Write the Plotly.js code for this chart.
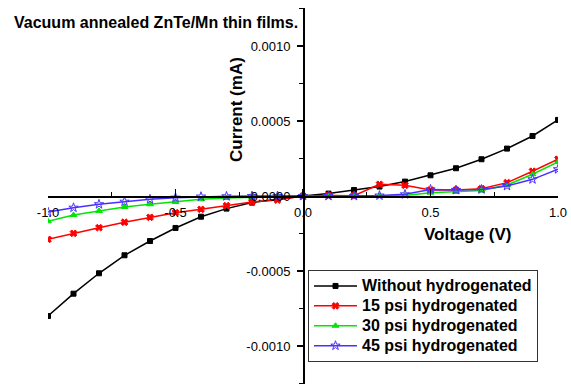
<!DOCTYPE html>
<html>
<head>
<meta charset="utf-8">
<script src="https://cdn.plot.ly/plotly-3.0.1.min.js"></script>
<style>html,body{margin:0;padding:0;background:#fff;}#chart{width:571px;height:385px;}</style>
</head>
<body>
<div id="chart"></div>
<script>
const voltage = [-1.0,-0.9,-0.8,-0.7,-0.6,-0.5,-0.4,-0.3,-0.2,-0.1,0.0,0.1,0.2,0.3,0.4,0.5,0.6,0.7,0.8,0.9,1.0];
const withoutH = [-0.00080,-0.000651,-0.000515,-0.000395,-0.000300,-0.000213,-0.000138,-0.000084,-0.000044,-0.000020,0.0,0.000016,0.000040,0.000063,0.000096,0.000138,0.000185,0.000245,0.000316,0.000400,0.000507];
const psi15 = [-0.000289,-0.000249,-0.000211,-0.000175,-0.000142,-0.000111,-0.000089,-0.000064,-0.000040,-0.000027,0.0,0.000003,0.000002,0.000078,0.000071,0.000040,0.000040,0.000049,0.000089,0.000165,0.000245];
const psi30 = [-0.000169,-0.000127,-0.000100,-0.000073,-0.000055,-0.000040,-0.000022,-0.000013,-0.000007,-0.000003,0.0,0.0,0.0,0.000001,0.000004,0.000022,0.000027,0.000036,0.000073,0.000145,0.000227];
const psi45 = [-0.000107,-0.000078,-0.000055,-0.000038,-0.000022,-0.000011,-0.000004,-0.000002,0.0,0.0,0.0,0.0,0.0,0.000003,0.000011,0.000044,0.000040,0.000044,0.000067,0.000111,0.000178];
const seriesNames = ["Without hydrogenated","15 psi hydrogenated","30 psi hydrogenated","45 psi hydrogenated"];
const xTickVals = [-1.0,-0.5,0.0,0.5,1.0];
const yTickVals = [-0.0010,-0.0005,0.0,0.0005,0.0010];
const yTickText = ["-0.0010","-0.0005","0.0000","0.0005","0.0010"];
const xTickText = ["-1.0","-0.5","0.0","0.5","1.0"];

const FONT = "Arial, 'Liberation Sans', sans-serif";
const colors = ["#000000","#ff0000","#00e600","#4a30ff"];
const symbols = ["square","x","triangle-up","star-open"];
const sizes = [5,6,6,7];
const ys = [withoutH, psi15, psi30, psi45];

const traces = ys.map((y,i)=>({
  x: voltage, y: y, type: "scatter", mode: "lines+markers",
  name: "<span style='font-size:16px'><b>"+seriesNames[i]+"</b></span>",
  line: {color: colors[i], width: 1.5},
  marker: {symbol: symbols[i], size: sizes[i], color: colors[i], line: {color: colors[i], width: 1}}
}));

const L=48, R=13, T=8, B=1, W=571, H=385;
const pw = W-L-R, ph = H-T-B;
const px = v => (v-L)/pw;
const py = v => (H-B-v)/ph;

const layout = {
  width: W, height: H,
  margin: {l:L, r:R, t:T, b:B, pad:0},
  paper_bgcolor: "#fff", plot_bgcolor: "#fff",
  font: {family: FONT, size: 13, color: "#000"},
  showlegend: true,
  legend: {
    x: px(308), y: py(270), xanchor: "left", yanchor: "top",
    bgcolor: "#fff", bordercolor: "#333", borderwidth: 1,
    font: {family: FONT, size: 13, color: "#000"},
    itemwidth: 43,
    tracegroupgap: 0
  },
  xaxis: {
    range: [-1.0, 1.0], anchor: "free", position: 0.5,
    showline: true, linecolor: "#000", linewidth: 1.5,
    showgrid: false, zeroline: false,
    tickmode: "array", tickvals: xTickVals, ticktext: xTickText,
    ticks: "inside", ticklen: 7, tickwidth: 1.5, tickcolor: "#000",
    ticklabelstandoff: 4,
    minor: {dtick: 0.25, ticks: "inside", ticklen: 4, tickwidth: 1.2, tickcolor: "#000"},
    tickfont: {family: FONT, size: 13, color: "#000"}
  },
  yaxis: {
    range: [-0.001253, 0.001253], anchor: "free", position: px(303),
    showline: true, linecolor: "#000", linewidth: 1.5,
    showgrid: false, zeroline: false,
    tickmode: "array", tickvals: yTickVals, ticktext: yTickText,
    ticks: "outside", ticklen: 6, tickwidth: 1.5, tickcolor: "#000",
    ticklabelstandoff: 4,
    minor: {dtick: 0.00025, tick0: 0, ticks: "outside", ticklen: 4, tickwidth: 1.2, tickcolor: "#000"},
    tickfont: {family: FONT, size: 13, color: "#000"}
  },
  annotations: [
    {text: "<b>Vacuum annealed ZnTe/Mn thin films.</b>", xref: "paper", yref: "paper",
     x: px(12), y: py(22), xanchor: "left", yanchor: "middle", showarrow: false,
     font: {family: FONT, size: 16, color: "#000"}},
    {text: "<b>Current (mA)</b>", xref: "paper", yref: "paper",
     x: px(236), y: py(110), xanchor: "center", yanchor: "middle", showarrow: false, textangle: -90,
     font: {family: FONT, size: 17, color: "#000"}},
    {text: "<b>Voltage (V)</b>", xref: "paper", yref: "paper",
     x: px(468), y: py(234), xanchor: "center", yanchor: "middle", showarrow: false,
     font: {family: FONT, size: 17, color: "#000"}}
  ]
};

Plotly.newPlot("chart", traces, layout, {displayModeBar: false, staticPlot: true});
</script>
</body>
</html>
